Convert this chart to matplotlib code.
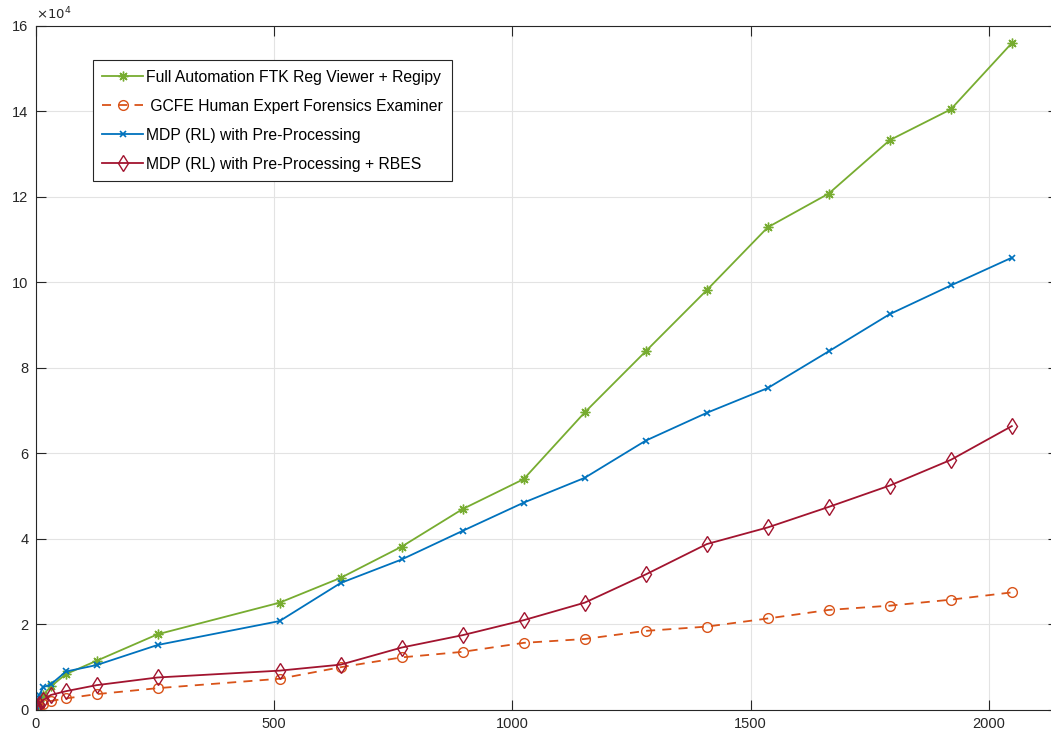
import numpy as np
import matplotlib.pyplot as plt

plt.rcParams['font.family'] = ['Liberation Sans', 'DejaVu Sans']

# x values (number of registry hives / files)
x = [1, 2, 4, 8, 16, 32, 64, 128, 256, 512, 640, 768, 896, 1024,
     1152, 1280, 1408, 1536, 1664, 1792, 1920, 2048]

full_auto = [200, 500, 1000, 2000, 3500, 5500, 8400, 11500, 17700, 25100, 30900,
             38200, 47000, 54000, 69600, 83900, 98200, 112900, 120800, 133300,
             140500, 156000]
gcfe = [100, 300, 600, 1000, 1500, 2100, 2700, 3700, 5100, 7300, 10000,
        12300, 13600, 15700, 16600, 18500, 19500, 21400, 23400, 24400, 25800, 27500]
mdp = [500, 1000, 2000, 3500, 5300, 6000, 9000, 10500, 15200, 20800, 29700,
       35200, 41900, 48500, 54300, 63000, 69500, 75300, 83900, 92600, 99300, 105800]
mdp_rbes = [200, 400, 800, 1500, 2300, 3500, 4400, 5800, 7600, 9200, 10600,
            14600, 17500, 21000, 25100, 31700, 38800, 42700, 47500, 52500, 58500, 66400]

labels = ['Full Automation FTK Reg Viewer + Regipy',
          ' GCFE Human Expert Forensics Examiner',
          'MDP (RL) with Pre-Processing',
          'MDP (RL) with Pre-Processing + RBES']

fig = plt.figure(figsize=(10.51, 7.32), dpi=100)
ax = fig.add_axes([0.0338, 0.0301, 0.9729, 0.9344])

ax.plot(x, full_auto, color='#77AC30', marker=(8, 2, 0), markersize=7, lw=1.3,
        label=labels[0])
ax.plot(x, gcfe, color='#D95319', marker='o', markersize=7, mfc='none', lw=1.3,
        ls=(0, (5, 4)), label=labels[1])
ax.plot(x, mdp, color='#0072BD', marker='x', markersize=5, mew=1.2, lw=1.3,
        label=labels[2])
ax.plot(x, mdp_rbes, color='#A2142F', marker='d', markersize=8, mfc='none', lw=1.3,
        label=labels[3])

ax.set_xlim(0, 2145)
ax.set_ylim(0, 160000)
ax.set_xticks([0, 500, 1000, 1500, 2000])
yt = np.arange(0, 160001, 20000)
ax.set_yticks(yt)
ax.set_yticklabels([str(int(v / 10000)) for v in yt])
ax.text(0.0, 1.006, r'$\times10^4$', transform=ax.transAxes, fontsize=9.5,
        color='#262626', ha='left', va='bottom')

ax.grid(True, color='#e3e3e3', lw=0.8)
ax.set_axisbelow(True)
ax.tick_params(direction='in', length=7, width=0.8, colors='#262626',
               labelsize=10.5, top=True, right=True, pad=5)
for s in ax.spines.values():
    s.set_color('#262626')
    s.set_linewidth(0.8)

leg = ax.legend(loc='upper left', bbox_to_anchor=(0.056, 0.950), borderaxespad=0,
                fancybox=False, edgecolor='#262626', framealpha=1, fontsize=11.3,
                handlelength=2.6, labelspacing=0.9, borderpad=0.6,
                handletextpad=0.2)
leg.get_frame().set_linewidth(0.8)

fig.savefig('out.png', dpi=100)
